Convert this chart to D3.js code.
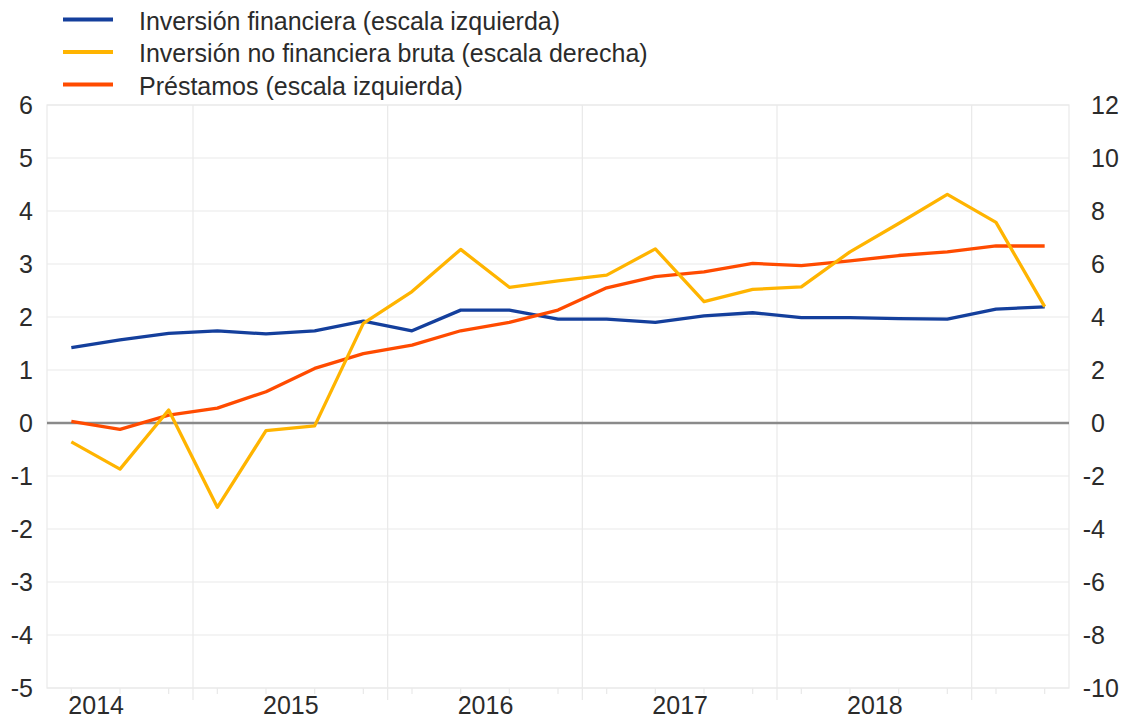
<!DOCTYPE html>
<html>
<head>
<meta charset="utf-8">
<script src="https://cdn.jsdelivr.net/npm/d3@7"></script>
<style>
  body { margin: 0; background: #fff; }
  svg { display: block; font-family: "Liberation Sans", Arial, sans-serif; }
</style>
</head>
<body>
<svg></svg>
<script>
// quarters, 2014 T2 .. 2019 T2
const quarters = ['2014T2','2014T3','2014T4','2015T1','2015T2','2015T3','2015T4',
  '2016T1','2016T2','2016T3','2016T4','2017T1','2017T2','2017T3','2017T4',
  '2018T1','2018T2','2018T3','2018T4','2019T1','2019T2']

// left scale
const inversionFinanciera = [1.42, 1.57, 1.69, 1.74, 1.68, 1.74, 1.92, 1.74, 2.13, 2.13, 1.96,
  1.96, 1.90, 2.02, 2.08, 1.99, 1.99, 1.97, 1.96, 2.15, 2.19]
const prestamos = [0.03, -0.12, 0.15, 0.28, 0.59, 1.03, 1.31, 1.47, 1.74, 1.90, 2.13,
  2.55, 2.76, 2.85, 3.01, 2.97, 3.06, 3.16, 3.23, 3.34, 3.34]
// right scale
const inversionNoFinanciera = [-0.71, -1.74, 0.49, -3.18, -0.29, -0.11, 3.76, 4.96, 6.55, 5.12, 5.36,
  5.58, 6.57, 4.58, 5.04, 5.14, 6.46, 7.53, 8.63, 7.57, 4.39]

const years = [2014, 2015, 2016, 2017, 2018]
const leftTicks = [-5, -4, -3, -2, -1, 0, 1, 2, 3, 4, 5, 6]
const rightTicks = [-10, -8, -6, -4, -2, 0, 2, 4, 6, 8, 10, 12]

const legendLabels = ['Inversión financiera (escala izquierda)',
  'Inversión no financiera bruta (escala derecha)',
  'Préstamos (escala izquierda)']

const width = 1125, height = 721
const svg = d3.select('svg').attr('width', width).attr('height', height)

const margin = {top: 105, left: 47, right: 56, bottom: 33}
const x0 = margin.left, x1 = width - margin.right
const y0 = margin.top, y1 = height - margin.bottom

// quarter label -> fractional year at quarter centre
const qTime = q => +q.slice(0, 4) + (+q.slice(5) - 1) * 0.25 + 0.125

const xScale = d3.scaleLinear().domain([2014.25, 2019.5]).range([x0, x1])
const yLeft = d3.scaleLinear().domain([-5, 6]).range([y1, y0])
const yRight = d3.scaleLinear().domain([-10, 12]).range([y1, y0])

const gridColor = '#e9e9e9'
const textColor = '#2b2b2b'
const fmt = d => String(d)   // plain hyphen minus, like the original

// horizontal grid
svg.append('g').selectAll('line').data(leftTicks).enter().append('line')
  .attr('x1', x0).attr('x2', x1)
  .attr('y1', d => yLeft(d)).attr('y2', d => yLeft(d))
  .attr('stroke', gridColor).attr('stroke-width', 1.2)

// vertical grid at year boundaries
svg.append('g').selectAll('line').data(d3.range(2015, 2020)).enter().append('line')
  .attr('x1', d => xScale(d)).attr('x2', d => xScale(d))
  .attr('y1', y0).attr('y2', y1 + 12)
  .attr('stroke', gridColor).attr('stroke-width', 1.2)

// quarter ticks
svg.append('g').selectAll('line').data(quarters).enter().append('line')
  .attr('x1', d => xScale(qTime(d))).attr('x2', d => xScale(qTime(d)))
  .attr('y1', y1).attr('y2', y1 + 6)
  .attr('stroke', gridColor).attr('stroke-width', 1.2)

// frame
svg.append('rect')
  .attr('x', x0).attr('y', y0).attr('width', x1 - x0).attr('height', y1 - y0)
  .attr('fill', 'none').attr('stroke', gridColor).attr('stroke-width', 1.2)

// zero line
svg.append('line')
  .attr('x1', x0).attr('x2', x1)
  .attr('y1', yLeft(0)).attr('y2', yLeft(0))
  .attr('stroke', '#8a8a8a').attr('stroke-width', 2.5)

// axes
const leftAxis = svg.append('g')
  .attr('transform', `translate(${x0},0)`)
  .call(d3.axisLeft(yLeft).tickValues(leftTicks).tickFormat(fmt).tickSize(0).tickPadding(14))
leftAxis.select('.domain').remove()

const rightAxis = svg.append('g')
  .attr('transform', `translate(${x1},0)`)
  .call(d3.axisRight(yRight).tickValues(rightTicks).tickFormat(fmt).tickSize(0).tickPadding(22))
rightAxis.select('.domain').remove()
rightAxis.selectAll('text').attr('dx', d => d < 0 ? -8.3 : 0)

const xAxis = svg.append('g')
  .attr('transform', `translate(0,${y1})`)
  .call(d3.axisBottom(xScale).tickValues(years.map(d => d + 0.5)).tickFormat(d => Math.floor(d)).tickSize(0))
xAxis.select('.domain').remove()
xAxis.selectAll('text').attr('y', 26).attr('dy', 0)

svg.selectAll('.tick text')
  .attr('font-size', 25)
  .attr('font-family', '"Liberation Sans", Arial, sans-serif')
  .attr('fill', textColor)

// lines
const lineLeft = d3.line().x((d, i) => xScale(qTime(quarters[i]))).y(d => yLeft(d))
const lineRight = d3.line().x((d, i) => xScale(qTime(quarters[i]))).y(d => yRight(d))

const colors = ['#143f9c', '#ffb400', '#ff4b00']

svg.append('path').datum(inversionFinanciera)
  .attr('d', lineLeft).attr('fill', 'none')
  .attr('stroke', colors[0]).attr('stroke-width', 3.3).attr('stroke-linejoin', 'round')
svg.append('path').datum(prestamos)
  .attr('d', lineLeft).attr('fill', 'none')
  .attr('stroke', colors[2]).attr('stroke-width', 3.3).attr('stroke-linejoin', 'round')
svg.append('path').datum(inversionNoFinanciera)
  .attr('d', lineRight).attr('fill', 'none')
  .attr('stroke', colors[1]).attr('stroke-width', 3.3).attr('stroke-linejoin', 'round')

// legend
const legend = svg.append('g')
legendLabels.forEach((label, i) => {
  const ly = 19.5 + i * 32.5
  legend.append('line')
    .attr('x1', 63).attr('x2', 113).attr('y1', ly).attr('y2', ly)
    .attr('stroke', colors[i]).attr('stroke-width', 4)
  legend.append('text')
    .attr('x', 139).attr('y', ly + 10)
    .attr('font-size', 25).attr('fill', textColor)
    .text(label)
})
</script>
</body>
</html>
